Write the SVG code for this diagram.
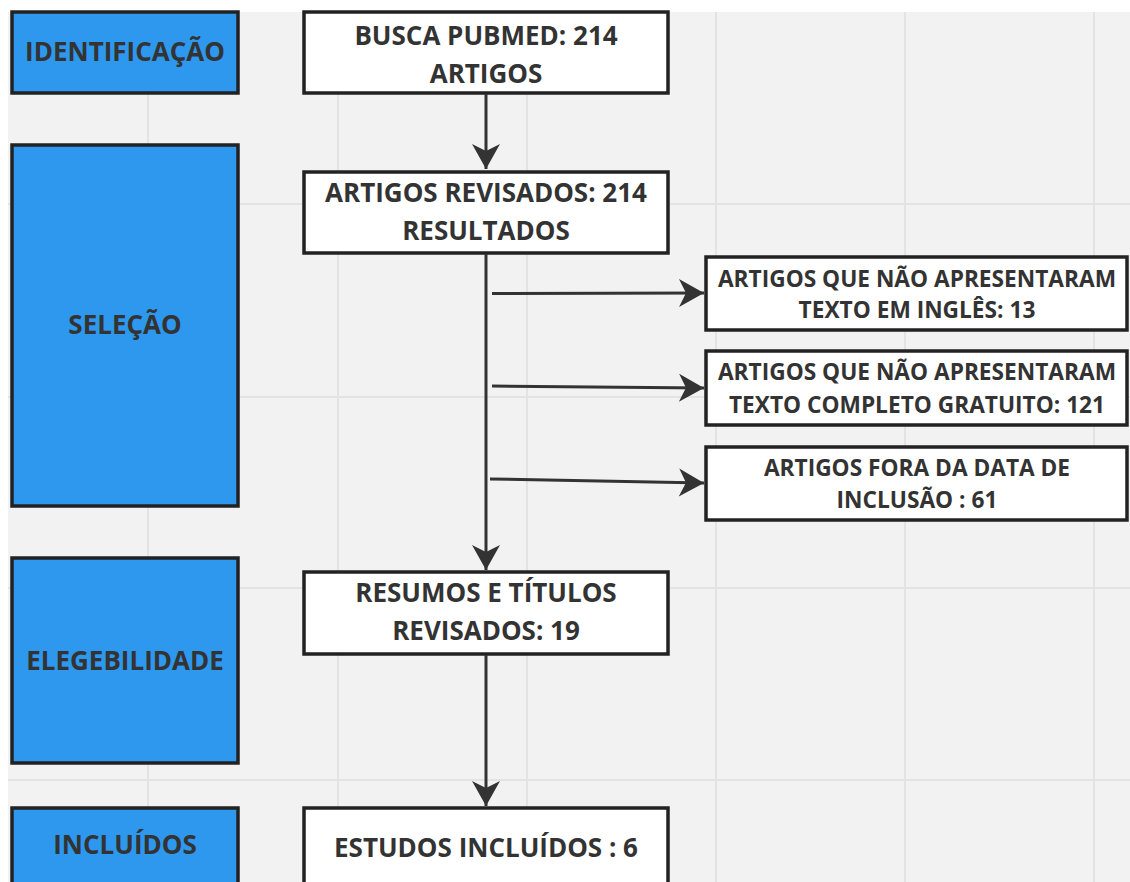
<svg xmlns="http://www.w3.org/2000/svg" width="1130" height="882" viewBox="0 0 1130 882">
<defs>
<style>
.bg{fill:#f2f2f2}
.grid{stroke:#e3e3e3;stroke-width:2;fill:none}
.phase{fill:#2d98ee;stroke:#222;stroke-width:3.5}
.box{fill:#fff;stroke:#222;stroke-width:3.5}
text{font-family:"Open Sans","Noto Sans","Liberation Sans",sans-serif;font-weight:bold;fill:#333;text-anchor:middle}
.t26{font-size:26px}
.t23{font-size:22.7px}
.conn{stroke:#333;stroke-width:3;fill:none}
</style>
<marker id="ah" markerUnits="userSpaceOnUse" viewBox="-26 -15 28 30" refX="0" refY="0" markerWidth="28" markerHeight="30" orient="auto">
<path d="M0,0 L-25,-14 L-18,0 L-25,14 Z" fill="#333"/>
</marker>
</defs>
<rect x="0" y="0" width="1130" height="882" fill="#fff"/>
<rect class="bg" x="8" y="12" width="1122" height="870"/>
<g class="grid">
<path d="M148,12V882M338,12V882M527,12V882M716,12V882M905,12V882M1094,12V882"/>
<path d="M8,204H1130M8,397H1130M8,588H1130M8,780H1130"/>
</g>
<g id="identificacao"><rect class="phase" x="12" y="12" width="226" height="81"/><text class="t26" x="125" y="61">IDENTIFICAÇÃO</text></g>
<g id="selecao"><rect class="phase" x="12" y="145" width="226" height="361"/><text class="t26" x="125" y="334">SELEÇÃO</text></g>
<g id="elegebilidade"><rect class="phase" x="12" y="558" width="226" height="205"/><text class="t26" x="125" y="670">ELEGEBILIDADE</text></g>
<g id="incluidos"><rect class="phase" x="12" y="808" width="226" height="80"/><text class="t26" x="125" y="854">INCLUÍDOS</text></g>
<g id="busca"><rect class="box" x="304" y="12" width="364" height="81"/><text class="t26" x="486" y="45">BUSCA PUBMED: 214</text><text class="t26" x="486" y="83">ARTIGOS</text></g>
<g id="revisados"><rect class="box" x="304" y="172" width="364" height="81"/><text class="t26" x="486" y="202">ARTIGOS REVISADOS: 214</text><text class="t26" x="486" y="240">RESULTADOS</text></g>
<g id="ingles"><rect class="box" x="706" y="257" width="421" height="73"/><text class="t23" x="917" y="286.5">ARTIGOS QUE NÃO APRESENTARAM</text><text class="t23" x="917" y="318">TEXTO EM INGLÊS: 13</text></g>
<g id="gratuito"><rect class="box" x="706" y="351" width="421" height="74"/><text class="t23" x="917" y="380">ARTIGOS QUE NÃO APRESENTARAM</text><text class="t23" x="917" y="413">TEXTO COMPLETO GRATUITO: 121</text></g>
<g id="data"><rect class="box" x="706" y="447" width="421" height="73"/><text class="t23" x="917" y="476">ARTIGOS FORA DA DATA DE</text><text class="t23" x="917" y="508">INCLUSÃO : 61</text></g>
<g id="resumos"><rect class="box" x="304" y="572" width="364" height="82"/><text class="t26" x="486" y="602">RESUMOS E TÍTULOS</text><text class="t26" x="486" y="640">REVISADOS: 19</text></g>
<g id="estudos"><rect class="box" x="304" y="808" width="364" height="80"/><text class="t26" x="486" y="857">ESTUDOS INCLUÍDOS : 6</text></g>
<g id="connectors" class="conn">
<path d="M486,94V169" marker-end="url(#ah)"/>
<path d="M486,254V570" marker-end="url(#ah)"/>
<path d="M486,655V806" marker-end="url(#ah)"/>
<path d="M492,293.5L704,293" marker-end="url(#ah)"/>
<path d="M492,386L704,388" marker-end="url(#ah)"/>
<path d="M490,479L704,483" marker-end="url(#ah)"/>
</g>
</svg>
